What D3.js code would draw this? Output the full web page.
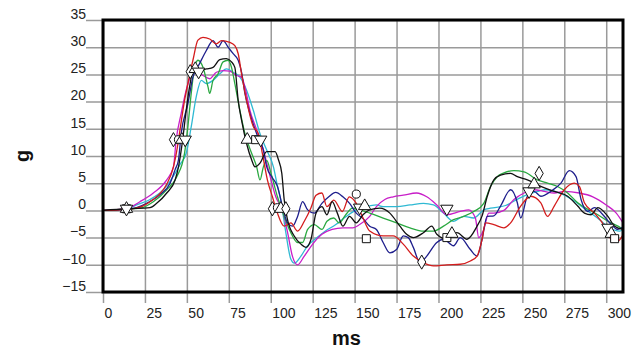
<!DOCTYPE html>
<html>
<head>
<meta charset="utf-8">
<script src="https://cdn.jsdelivr.net/npm/d3@7/dist/d3.min.js"></script>
<style>
  html, body { margin: 0; padding: 0; background: #fff; }
  svg { display: block; font-family: "Liberation Sans", Arial, sans-serif; }
</style>
</head>
<body>
<div id="chart"></div>
<script>
// tick values
const xTicks = [0, 25, 50, 75, 100, 125, 150, 175, 200, 225, 250, 275, 300];
const yTicks = [-15, -10, -5, 0, 5, 10, 15, 20, 25, 30, 35];

// series: [ms, g]
const redPts = [[0,0],[14,0.2],[22,0.6],[28,1.6],[33,2.8],[38,4.8],[42,8],[44,11],[46,15],[48.6,20.2],[50.6,23.3],[53.6,27.6],[56.6,31.3],[59.6,31.8],[63.6,31.5],[67.6,30.6],[70.6,31.2],[75.6,30.9],[78.6,30.3],[80.6,28.8],[82.6,25.1],[85.6,20.2],[89.6,15.4],[92.6,14.1],[95,10.5],[98,5.6],[101,2.5],[104,-0.5],[108,-2.9],[112,-2.3],[116,-3.8],[120,-2],[124,0.5],[127,2.8],[130.5,3.2],[133.5,0.7],[137.6,1.9],[142.7,-0.2],[146.8,2.5],[151,1.3],[155,-1.4],[159,-3.8],[167,-4.7],[173,-4.7],[179,-6.2],[185,-8.4],[191,-9.6],[197,-10.2],[205,-10],[213,-9.9],[219,-9.3],[223,-8.4],[226,-5.3],[228,-2.3],[233,-2.6],[239,-3.2],[243,-2.3],[249,0.8],[255,2.6],[261,1.4],[265,-1.1],[269,0.8],[275,3.8],[281,5.0],[284,4.4],[287,1.4],[293,-0.5],[299,-2.9],[303,-5.3],[307,-5.6],[310,-4.5]];
const navyPts = [[0,0],[14,0.2],[20,0.5],[26,1.3],[34,2.9],[40,5],[43,7.5],[45,9.3],[46.6,14.1],[50.6,19.6],[53.6,24.5],[57.6,27],[61.6,29.4],[65.6,31.2],[68.6,30],[71.6,31.2],[74.6,30],[77.6,28.8],[80.6,27.6],[82.6,25.4],[84.6,21.5],[87.6,17.8],[91.6,14.1],[95.6,11.1],[97.6,8],[101,6],[104,4.4],[107,0.7],[110,-2.3],[113,-2.9],[116,-1.1],[119,1.6],[122,0.1],[126,-0.5],[130.5,1.3],[134.6,2.5],[138.7,3.3],[143,2.5],[147,1.3],[151,-0.5],[155,-1.5],[159,-2.9],[163,-3.5],[167,-5.9],[171,-7.8],[175,-7.2],[179,-4.7],[182,-5],[185,-6.8],[189,-9.6],[193,-8.4],[199,-5.9],[203,-5.3],[209,-6.5],[213,-5],[219,-7.2],[223,-8.4],[226,-5.3],[229,-1.1],[233,-1],[237,0.8],[243,3.8],[247,1.4],[249,-1.4],[253,2.6],[257,3.5],[261,2.6],[267,3.5],[273,5],[278,7.3],[282,6.2],[285,2],[289,-0.2],[293,0.5],[298,-0.8],[303,-2.6],[307,-3.5],[310,-3]];
const greenPts = [[0,0],[14,0.2],[22,0.4],[30,1.6],[38,3.8],[44,6.2],[48.6,10.5],[50.6,15.4],[52.6,21.5],[54.6,26.3],[56.6,27.6],[59.6,26.3],[62.6,22.7],[63.6,21.5],[65.6,23.9],[68.6,25.1],[71.6,27.3],[74.6,27.6],[76.6,26.3],[78.6,23.3],[81.6,18.4],[84.6,14.1],[88.6,10.5],[91.6,8],[93.6,5.6],[95.6,8],[97.6,9.2],[100,7],[104,2.5],[108,-1.1],[112,-4.1],[116,-5.9],[119,-5.9],[122,-3.5],[126,-2.6],[130.5,-3.5],[133.5,-2],[137.6,-1.4],[140.7,-2.3],[144.7,-0.8],[148.8,0.4],[153,0.1],[159,-0.5],[167,-1.4],[175,-2.3],[183,-3.2],[191,-3.8],[197,-3.8],[203,-2.9],[209,-1.7],[215,-1.1],[221,-0.2],[227,1.3],[231,4.4],[235,6.2],[239,6.9],[245,7.3],[251,7.1],[259,5.6],[265,5],[271,4.4],[277,3.2],[283,1.4],[289,0.2],[295,-0.8],[301,-2],[307,-2.9],[310,-3.5]];
const blackPts = [[0,0],[14,0.3],[28,0.5],[32,1.3],[38,3.2],[43,5.6],[45,8],[47.5,13],[49.6,18.4],[51.6,22.7],[53.6,25.4],[57.6,25.7],[61.6,26],[65.6,26.3],[69.6,27.7],[73.6,27.9],[76.6,27.3],[78.6,26.3],[80.6,20.2],[82.6,16.6],[85.6,12.3],[88.6,9.3],[90.6,8],[93.6,8.7],[97.6,10.8],[102.6,10.8],[104.6,9.3],[106.6,6.8],[108,2],[110,-1.7],[114,-4.7],[118,-6.2],[121,-6.8],[124,-5.3],[127,-0.5],[130.5,0.7],[133.5,-0.8],[136.6,1.6],[139.7,-0.5],[143,-2.9],[147,-1.1],[151,-2.3],[155,-0.8],[159,0.1],[165,0.4],[171,-0.5],[177,-2.9],[181,-4.4],[185,-5],[191,-4.1],[196,-2.9],[199,-4.4],[205,-5.3],[211,-4.1],[217,-5.3],[223,-2.9],[226,-1],[229,2.5],[233,5.6],[237,6.5],[243,6.8],[247,6.2],[253,5.6],[261,4.4],[269,3.5],[277,2.6],[283,0.8],[287,-0.5],[291,-0.8],[295,0.5],[301,-1.1],[305,-2.9],[310,-3.5]];
const cyanPts = [[0,0],[14,0.2],[20,1.0],[28,2],[36,3.8],[43,6.8],[46,8.5],[49.6,10.5],[52.6,15.4],[55.6,20.9],[58.6,23.9],[61.6,23.3],[65.6,23.9],[69.6,25.1],[73.6,26],[77.6,25.4],[81.6,24.5],[85.6,22.1],[89.6,18.4],[93.6,14.1],[97.6,11.1],[101.6,8],[104,4.5],[106,1.9],[109,-4.1],[112,-9],[114,-9.7],[118,-8.4],[122,-6.5],[127.6,-5],[132.6,-3.8],[138.8,-2.6],[145,-1.1],[151,0.1],[157,0.7],[163,1.0],[167,0.7],[175,0.7],[183,1.0],[191,1.3],[197,1.0],[203,-0.5],[209,-2],[215,-1.1],[221,-1.4],[227,0.1],[231,0.4],[240,0.9],[248,2.2],[256,3.2],[264,3.8],[272,3.2],[280,1.9],[288,0.1],[296,-1.7],[302,-3.2],[308,-3.8],[310,-3.5]];
const magentaPts = [[0,0],[14,0.3],[22,1.6],[30,3.2],[38,5.6],[42,8],[43.6,12.9],[46.6,17.8],[49.6,22.1],[52.6,24.8],[55.6,25.4],[59.6,24.8],[63.6,24.2],[67.6,25.4],[71.6,25.7],[75.6,25.6],[79.6,24.8],[82.6,24.5],[84.6,22.7],[87.6,18.4],[91.6,14.8],[95.6,11.1],[99,7],[103,2.5],[107,0],[110,-4],[113,-8.5],[116,-10],[120,-8.4],[125,-6.2],[130.5,-4.4],[136.6,-3.5],[143,-3.2],[149,-3.2],[153,-2.6],[159,-1.1],[163,0.7],[168,2],[173,2.5],[179,2.8],[187,3.2],[193,2.5],[199,1.0],[205,-0.8],[213,-0.2],[218,0.1],[222,-1.4],[224,-5],[227,-3.5],[230,-0.5],[233,-0.5],[239,0],[245,2],[251,3.2],[257,3.8],[263,3.5],[269,3.2],[275,3.5],[284,3.2],[292,2.5],[300,1.0],[306,-0.5],[310,-2.3]];

// event markers: [ms, g, shape]
const markerPts = [
  [14,0.3,'square'],[14,0.3,'triangle'],[14,0.3,'triangleDown'],
  [42,13,'diamond'],[45,13,'circle'],[47,13,'triangle'],[49,13,'triangleDown'],
  [52,25.5,'diamond'],[55,26,'triangle'],[57,25.5,'triangleDown'],
  [86,13,'triangle'],[91,13,'square'],[94,13,'triangleDown'],
  [101,0.3,'diamond'],[104,0.5,'circle'],[106,0.3,'triangle'],[109,0.3,'diamond'],
  [151,3,'circle'],[153,0.5,'triangleDown'],[156,0.8,'triangle'],[157,-5.2,'square'],
  [190,-9.5,'diamond'],[205,0.3,'triangleDown'],[205,-5,'square'],[208,-4.3,'triangle'],
  [254,3.5,'triangleDown'],[257,4.8,'triangle'],[260,6.8,'diamond'],
  [301,-3.2,'triangleDown'],[303,-4.3,'triangle'],[305,-5.2,'square']
];

const series = [
  { name: 'cyan', color: '#2fb9d3', pts: cyanPts },
  { name: 'magenta', color: '#c81ec8', pts: magentaPts },
  { name: 'green', color: '#2aa840', pts: greenPts },
  { name: 'navy', color: '#1e1e8c', pts: navyPts },
  { name: 'red', color: '#d41c1c', pts: redPts },
  { name: 'black', color: '#111111', pts: blackPts }
];

const width = 634, height = 349;
const plot = { left: 103, right: 623, top: 20, bottom: 292 };

const svg = d3.select('#chart').append('svg')
  .attr('width', width)
  .attr('height', height);

svg.append('rect').attr('width', width).attr('height', height).attr('fill', '#fff');

const x = d3.scaleLinear().domain([0, 310]).range([plot.left, plot.right]);
const y = d3.scaleLinear().domain([-15, 35]).range([plot.bottom, plot.top]);

// vertical grid + ticks + labels
const gx = svg.append('g')
  .attr('transform', `translate(0,${plot.bottom + 11})`)
  .call(d3.axisBottom(x).tickValues(xTicks).tickSizeInner(-(plot.bottom + 11 - plot.top)).tickSizeOuter(0));
gx.select('.domain').remove();
gx.selectAll('line').attr('stroke', '#9a9a9a').attr('stroke-width', 1.5);
gx.selectAll('text')
  .attr('text-anchor', 'start')
  .attr('x', 1).attr('y', 15).attr('dy', 0)
  .attr('font-size', 14).attr('font-family', '"Liberation Sans", Arial, sans-serif')
  .attr('fill', '#222');

// horizontal grid + ticks + labels
const tickLen = plot.right - 86;
const gy = svg.append('g')
  .attr('transform', `translate(${plot.right},0)`)
  .call(d3.axisLeft(y).tickValues(yTicks).tickSizeInner(tickLen).tickSizeOuter(0));
gy.select('.domain').remove();
gy.selectAll('line').attr('stroke', '#9a9a9a').attr('stroke-width', 1.5);
gy.selectAll('text')
  .attr('x', -tickLen).attr('dy', '-0.12em')
  .attr('font-size', 14).attr('font-family', '"Liberation Sans", Arial, sans-serif')
  .attr('fill', '#222');

// series lines
const line = d3.line()
  .x(d => x(d[0]))
  .y(d => y(d[1]))
  .curve(d3.curveMonotoneX);

svg.append('g').selectAll('path')
  .data(series)
  .join('path')
  .attr('d', d => line(d.pts))
  .attr('fill', 'none')
  .attr('stroke', d => d.color)
  .attr('stroke-width', 1.3)
  .attr('stroke-linejoin', 'round');

// plot frame
svg.append('rect')
  .attr('x', plot.left).attr('y', plot.top)
  .attr('width', plot.right - plot.left).attr('height', plot.bottom - plot.top)
  .attr('fill', 'none').attr('stroke', '#000').attr('stroke-width', 3);

// markers
const symType = {
  square: d3.symbolSquare,
  triangle: d3.symbolTriangle,
  triangleDown: d3.symbolTriangle,
  diamond: d3.symbolDiamond,
  circle: d3.symbolCircle
};
const symSize = { square: 64, triangle: 66, triangleDown: 66, diamond: 58, circle: 52 };

svg.append('g').selectAll('path')
  .data(markerPts)
  .join('path')
  .attr('d', d => d3.symbol().type(symType[d[2]]).size(symSize[d[2]])())
  .attr('transform', d => `translate(${x(d[0])},${y(d[1])})` + (d[2] === 'triangleDown' ? ' rotate(180)' : ''))
  .attr('fill', '#fff')
  .attr('stroke', '#111')
  .attr('stroke-width', 1);

// axis titles
svg.append('text')
  .attr('x', 332).attr('y', 345)
  .attr('font-size', 20).attr('font-weight', 'bold')
  .attr('fill', '#111')
  .text('ms');

svg.append('text')
  .attr('transform', 'translate(29,156) rotate(-90)')
  .attr('text-anchor', 'middle')
  .attr('font-size', 20).attr('font-weight', 'bold')
  .attr('fill', '#111')
  .text('g');
</script>
</body>
</html>
